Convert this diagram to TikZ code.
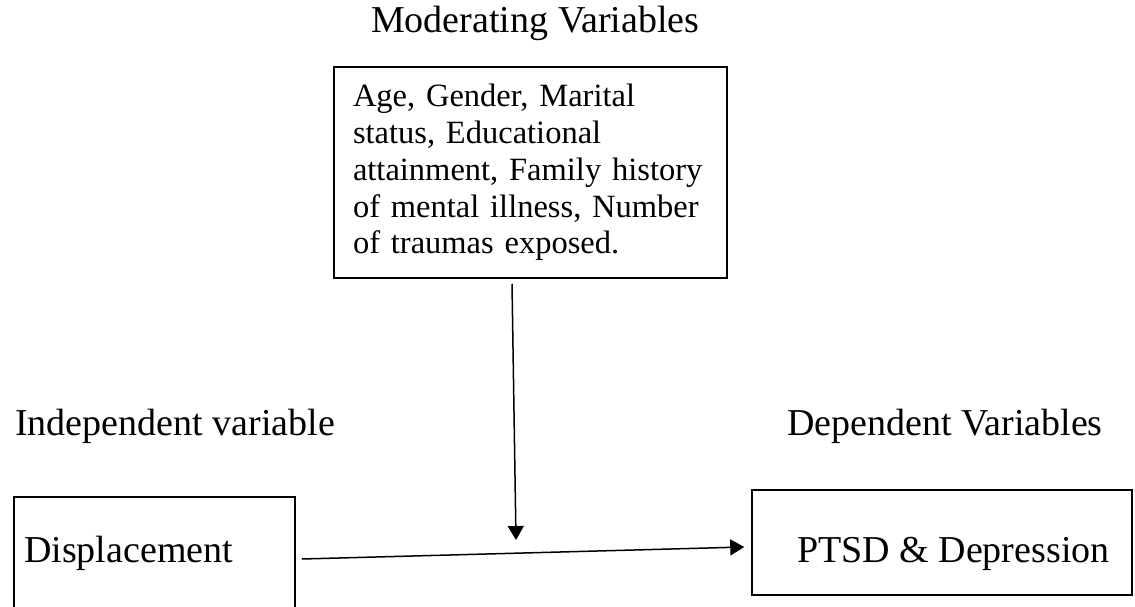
\documentclass[tikz,border=0pt]{standalone}
\usepackage{fontspec}
\setmainfont{Liberation Serif}
\usetikzlibrary{arrows.meta}
\begin{document}
\begin{tikzpicture}[x=1pt,y=1pt,
  boxed/.style={draw=black, line width=1.5pt, rectangle, inner sep=0pt},
  bigtext/.style={font=\fontsize{38}{44}\selectfont, inner sep=0pt, anchor=base west},
  conn/.style={line width=1.5pt, -{Triangle[length=14pt,width=16pt]}}
]
\clip (0,0) rectangle (1135,-606);
\fill[white] (0,0) rectangle (1135,-606);
% titles
\node[bigtext] (tmod) at (371,-32) {Moderating Variables};
\node[bigtext] (tind) at (15,-435) {Independent variable};
\node[bigtext] (tdep) at (787,-435) {Dependent Variables};
% moderating box
\node[boxed, minimum width=393pt, minimum height=211pt, text width=355pt,
      inner xsep=19pt, align=left, font=\fontsize{32.5}{36.7}\selectfont]
  (mod) at (530.5,-172.5)
  {Age, Gender, Marital\\status, Educational\\attainment, Family history\\of mental illness, Number\\of traumas exposed.};
% displacement box
\node[boxed, minimum width=281pt, minimum height=143pt] (disp) at (154.5,-568.5) {};
\node[bigtext] (tdisp) at (24,-562) {Displacement};
% PTSD box
\node[boxed, minimum width=380pt, minimum height=105pt] (ptsd) at (942,-542.5) {};
\node[bigtext] (tptsd) at (797,-562) {PTSD \& Depression};
% connectors
\coordinate (mtip) at (516,-540);
\draw[conn] ([xshift=-18.5pt,yshift=-5pt]mod.south) -- (mtip);
\draw[conn] ([xshift=6pt,yshift=9.5pt]disp.east) -- ([xshift=-7pt,yshift=-4.5pt]ptsd.west);
\end{tikzpicture}
\end{document}
